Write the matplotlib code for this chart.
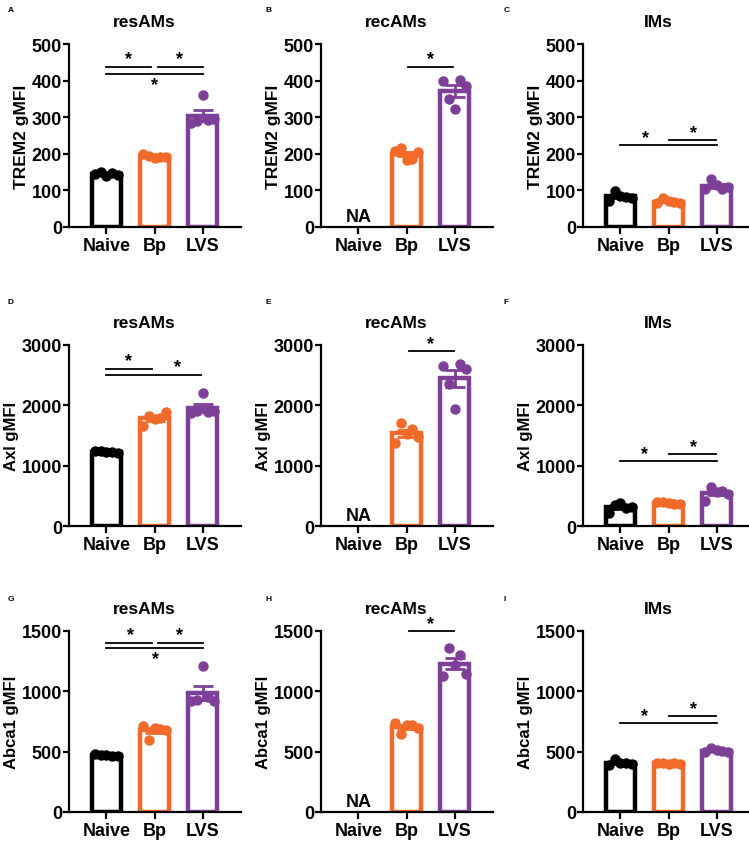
import numpy as np
import matplotlib.pyplot as plt

plt.rcParams['font.family'] = ['Liberation Sans', 'DejaVu Sans']
plt.rcParams['font.weight'] = 'bold'

groups = ['Naive', 'Bp', 'LVS']
colors = ['#000000', '#F26A2A', '#7E3F98']

# TREM2 gMFI
trem2_resams = [[145, 150, 140, 148, 142], [200, 195, 188, 192, 190], [285, 290, 360, 292, 295]]
trem2_recams = [None, [208, 215, 183, 185, 205], [398, 350, 322, 403, 385]]
trem2_ims = [[72, 98, 85, 82, 80], [66, 78, 70, 68, 65], [104, 132, 115, 105, 108]]

# Axl gMFI
axl_resams = [[1240, 1250, 1230, 1220, 1210], [1650, 1830, 1770, 1790, 1890], [1880, 1900, 2200, 1890, 1900]]
axl_recams = [None, [1380, 1700, 1520, 1600, 1470], [2660, 2350, 1940, 2680, 2610]]
axl_ims = [[220, 350, 380, 300, 320], [390, 400, 380, 370, 360], [410, 650, 560, 580, 530]]

# Abca1 gMFI
abca1_resams = [[480, 475, 470, 465, 460], [710, 600, 700, 690, 680], [920, 930, 1210, 950, 920]]
abca1_recams = [None, [740, 645, 725, 720, 700], [1130, 1360, 1220, 1300, 1140]]
abca1_ims = [[390, 440, 410, 405, 400], [410, 405, 400, 410, 400], [500, 530, 510, 505, 495]]

# significance bars: (x1, x2, y_line, star_x, star_y)
sig_trem2_res = [(0, 0.93, 436, 0.46, 459), (1.07, 2.0, 436, 1.53, 459), (0, 2.0, 418, 1.0, 390)]
sig_trem2_rec = [(1.04, 1.96, 438, 1.5, 459)]
sig_trem2_ims = [(0, 2.0, 223, 0.52, 243), (1.02, 1.98, 239, 1.52, 259)]
sig_axl_res = [(0, 0.95, 2609, 0.45, 2740), (0, 1.97, 2499, 1.47, 2640)]
sig_axl_rec = [(1.06, 1.98, 2905, 1.5, 3030)]
sig_axl_ims = [(0, 2.0, 1085, 0.5, 1205), (1.0, 1.98, 1195, 1.52, 1310)]
sig_abca1_res = [(0, 0.95, 1404, 0.5, 1474), (1.07, 2.0, 1404, 1.52, 1474), (0, 2.0, 1355, 1.01, 1270)]
sig_abca1_rec = [(1.05, 1.98, 1500, 1.5, 1560)]
sig_abca1_ims = [(0, 2.0, 736, 0.51, 796), (1.0, 1.98, 794, 1.52, 855)]

panels = [
    ('A', 'resAMs', 'TREM2 gMFI', trem2_resams, sig_trem2_res, 500, 100),
    ('B', 'recAMs', 'TREM2 gMFI', trem2_recams, sig_trem2_rec, 500, 100),
    ('C', 'IMs', 'TREM2 gMFI', trem2_ims, sig_trem2_ims, 500, 100),
    ('D', 'resAMs', 'Axl gMFI', axl_resams, sig_axl_res, 3000, 1000),
    ('E', 'recAMs', 'Axl gMFI', axl_recams, sig_axl_rec, 3000, 1000),
    ('F', 'IMs', 'Axl gMFI', axl_ims, sig_axl_ims, 3000, 1000),
    ('G', 'resAMs', 'Abca1 gMFI', abca1_resams, sig_abca1_res, 1500, 500),
    ('H', 'recAMs', 'Abca1 gMFI', abca1_recams, sig_abca1_rec, 1500, 500),
    ('I', 'IMs', 'Abca1 gMFI', abca1_ims, sig_abca1_ims, 1500, 500),
]

W, H = 749, 845
fig = plt.figure(figsize=(W / 100, H / 100), dpi=100)

col_left = [69, 321, 583]
col_w = 172
row_tb = [(45, 228), (346, 527), (632, 813)]
letter_x = [8, 266, 504]
letter_y = [10, 303, 600]
jitter = [-0.24, -0.12, 0, 0.12, 0.24]

for k, (letter, title, ylabel, data, sigs, ymax, ystep) in enumerate(panels):
    r, c = divmod(k, 3)
    top, bot = row_tb[r]
    ax = fig.add_axes([col_left[c] / W, 1 - bot / H, col_w / W, (bot - top) / H])

    for i, vals in enumerate(data):
        if vals is None:
            ax.text(i, ymax * 0.012, 'NA', ha='center', va='bottom', fontsize=13, fontweight='bold')
            continue
        vals = np.array(vals, dtype=float)
        m = vals.mean()
        sem = vals.std(ddof=1) / np.sqrt(len(vals))
        ax.bar(i, m, width=0.6, facecolor='white', edgecolor=colors[i], linewidth=3.2, zorder=2)
        ax.errorbar(i, m, yerr=sem, color=colors[i], capsize=7, capthick=2, elinewidth=2, zorder=3)
        ax.plot(i + np.array(jitter), vals, 'o', color=colors[i], markersize=6.5, zorder=4, clip_on=False)

    for x1, x2, yl, sx, sy in sigs:
        ax.plot([x1, x2], [yl, yl], color='black', linewidth=1.3, clip_on=False)
        ax.text(sx, sy, '*', ha='center', va='center', fontsize=13, fontweight='bold', clip_on=False)

    ax.set_xlim(-0.78, 2.8)
    ax.set_ylim(0, ymax)
    ax.set_yticks(np.arange(0, ymax + 1, ystep))
    ax.set_xticks(range(3))
    ax.set_xticklabels(groups)
    ax.tick_params(axis='x', labelsize=13, width=1.6, length=5, pad=2)
    ax.tick_params(axis='y', labelsize=13, width=1.6, length=4, pad=1)
    for lab in ax.get_xticklabels() + ax.get_yticklabels():
        lab.set_fontweight('bold')
    ax.spines['top'].set_visible(False)
    ax.spines['right'].set_visible(False)
    ax.spines['left'].set_linewidth(1.6)
    ax.spines['bottom'].set_linewidth(1.6)
    ax.set_ylabel(ylabel, fontsize=12.5 if r == 0 else 12, fontweight='bold', labelpad=2)
    ax.set_title(title, fontsize=12.5, fontweight='bold', pad=13, x=0.44)

    fig.text(letter_x[c] / W, 1 - letter_y[r] / H, letter, fontsize=6, fontweight='bold',
             ha='left', va='center')

fig.savefig('out.png', dpi=100)
